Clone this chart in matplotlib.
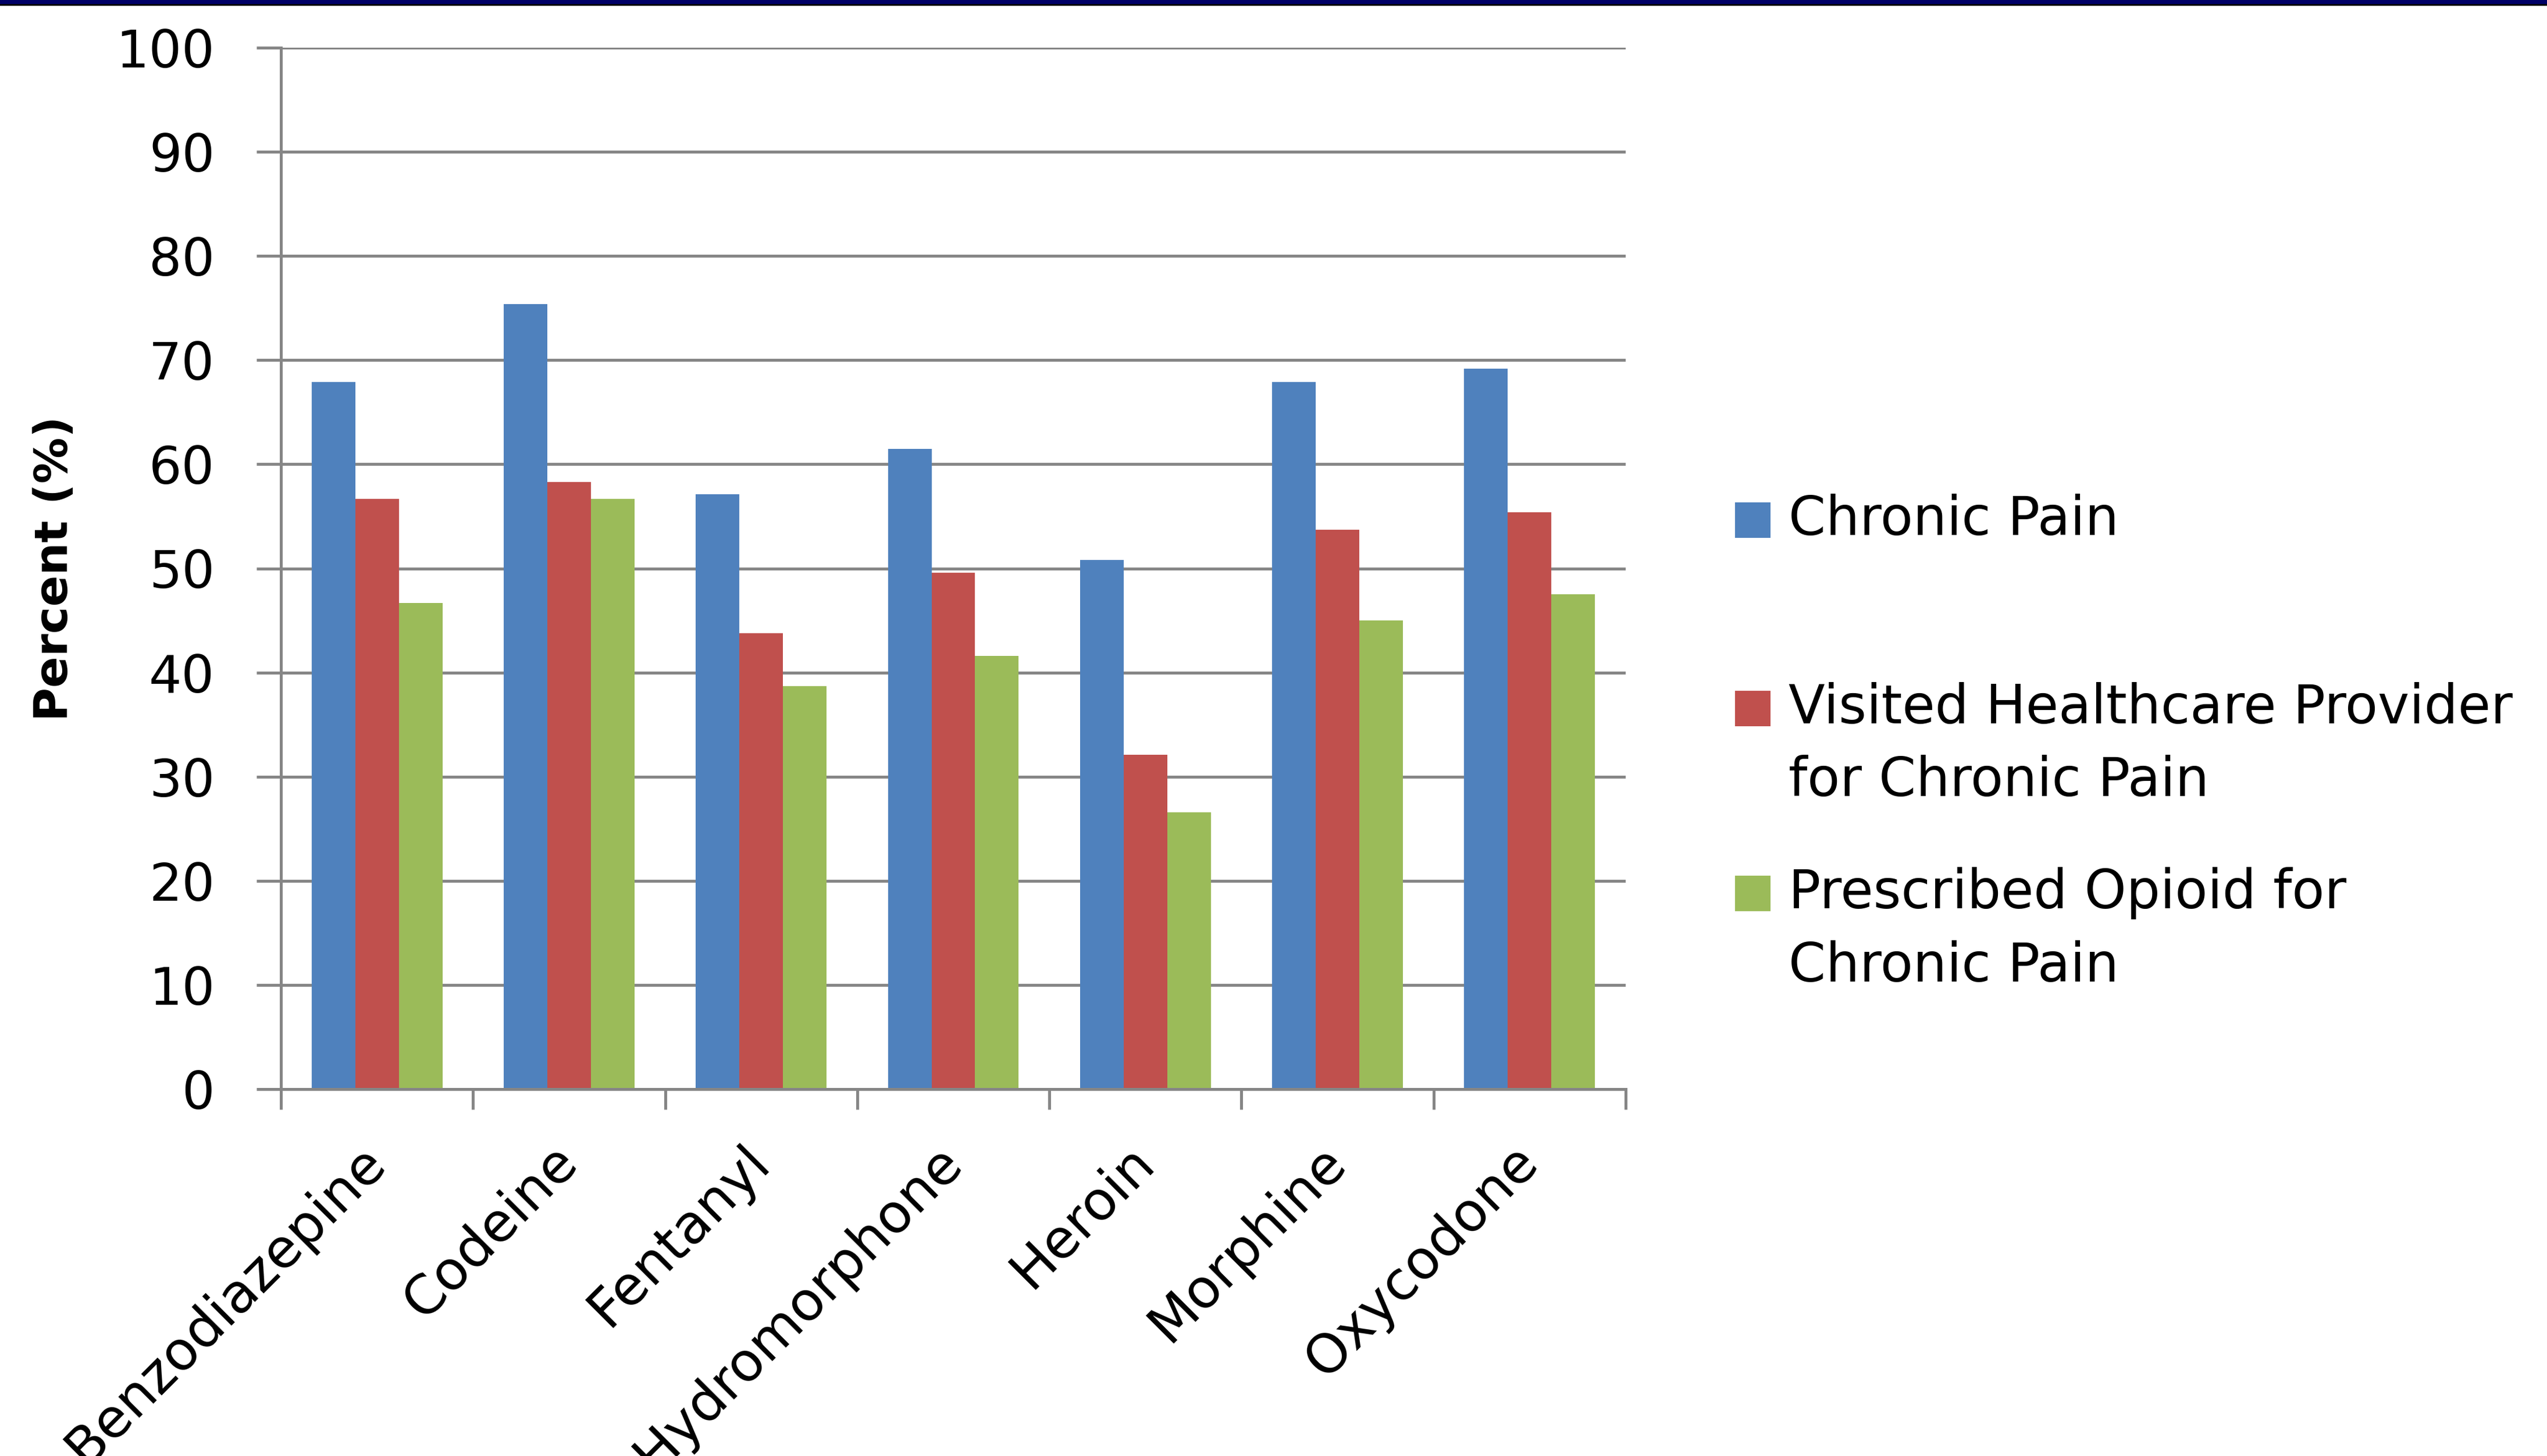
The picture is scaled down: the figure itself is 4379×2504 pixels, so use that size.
import numpy as np
import matplotlib
matplotlib.use("Agg")
import matplotlib.pyplot as plt
from matplotlib.patches import Rectangle

drugs = ["Benzodiazepine", "Codeine", "Fentanyl", "Hydromorphone", "Heroin", "Morphine", "Oxycodone"]
chronic_pain = [67.9, 75.4, 57.1, 61.5, 50.8, 67.9, 69.2]
visited_provider = [56.7, 58.3, 43.8, 49.6, 32.1, 53.7, 55.4]
prescribed_opioid = [46.7, 56.7, 38.7, 41.6, 26.6, 45.0, 47.5]
series_labels = ["Chronic Pain", "Visited Healthcare Provider\nfor Chronic Pain", "Prescribed Opioid for\nChronic Pain"]
y_ticks = [0, 10, 20, 30, 40, 50, 60, 70, 80, 90, 100]

colors = ["#4F81BD", "#C0504D", "#9BBB59"]
grid_c = "#868686"

W, H = 4379, 2504
fig = plt.figure(figsize=(W / 100, H / 100), dpi=100)
ax = fig.add_axes([483 / W, 1 - 1873 / H, (2795 - 483) / W, (1873 - 82) / H])

x = np.arange(len(drugs))
bw = 0.227
for i, vals in enumerate([chronic_pain, visited_provider, prescribed_opioid]):
    ax.bar(x + (i - 1) * bw, vals, width=bw, color=colors[i], zorder=3, linewidth=0)

ax.set_xlim(-0.5, len(drugs) - 0.5)
ax.set_ylim(0, 100)
ax.set_yticks(y_ticks)
ax.yaxis.grid(True, color=grid_c, linewidth=3.6, zorder=1)
ax.set_axisbelow(True)

for s in ["top", "right"]:
    ax.spines[s].set_visible(False)
for s in ["left", "bottom"]:
    ax.spines[s].set_color(grid_c)
    ax.spines[s].set_linewidth(3.6)
    ax.spines[s].set_zorder(4)

ax.tick_params(axis="y", direction="out", length=30, width=3.6, color=grid_c,
               labelsize=64, pad=52)

# category labels at centres, tick marks at boundaries
ax.set_xticks(x)
ax.set_xticklabels(drugs, rotation=45, ha="right", va="center", rotation_mode="anchor")
ax.tick_params(axis="x", which="major", length=0, labelsize=67, pad=80)
ax.set_xticks(np.arange(len(drugs) + 1) - 0.5, minor=True)
ax.tick_params(axis="x", which="minor", direction="out", length=25, width=3.6, color=grid_c)

ax.set_ylabel("Percent (%)", fontsize=57, fontweight="bold")
ax.yaxis.set_label_coords(-0.152, 0.5)

# legend drawn by hand to match spacing
line_y = [[894], [1218, 1343], [1536, 1662]]
sq = 61
for i, lab in enumerate(series_labels):
    y0 = line_y[i][0]
    fig.patches.append(Rectangle((2983 / W, 1 - (y0 + sq / 2) / H), sq / W, sq / H,
                                 transform=fig.transFigure, facecolor=colors[i],
                                 edgecolor="none"))
    for j, txt in enumerate(lab.split("\n")):
        fig.text(3075 / W, 1 - line_y[i][j] / H, txt, fontsize=66, ha="left", va="center")

# top banner
fig.patches.append(Rectangle((0, 1 - 7 / H), 1, 7 / H, transform=fig.transFigure,
                             facecolor="#000066", edgecolor="none"))
fig.patches.append(Rectangle((0, 1 - 10 / H), 1, 3 / H, transform=fig.transFigure,
                             facecolor="#000000", edgecolor="none"))

fig.savefig("out.png", dpi=100)
